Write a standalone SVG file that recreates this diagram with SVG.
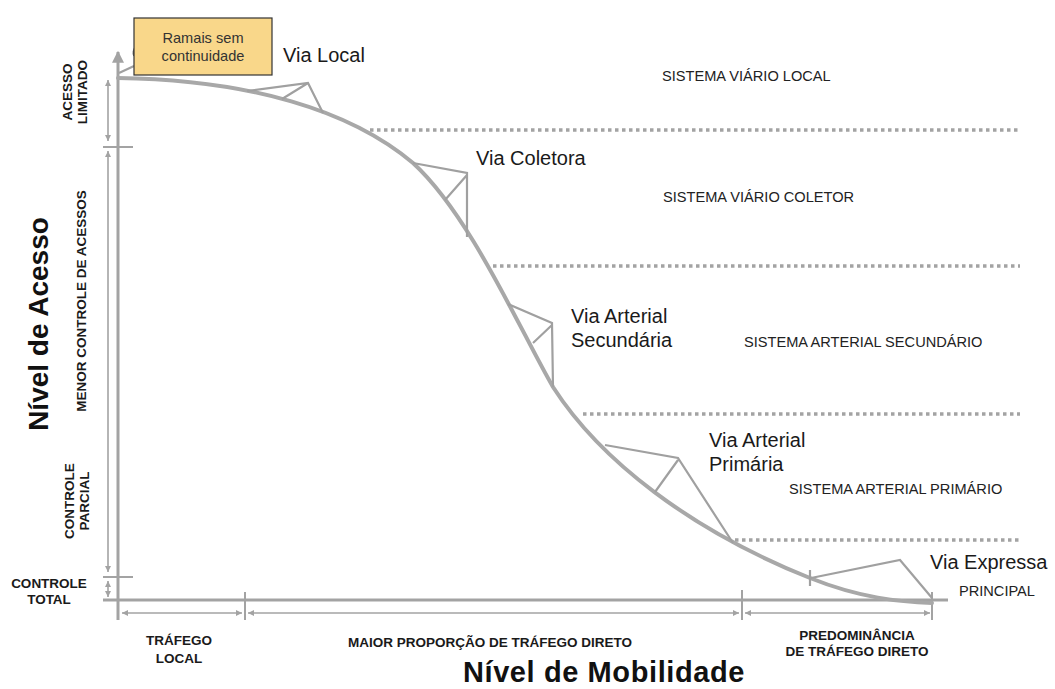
<svg xmlns="http://www.w3.org/2000/svg" width="1055" height="689" viewBox="0 0 1055 689">
<defs>
<style>
.ax{stroke:#a3a3a3;stroke-width:3;fill:none}
.dim{stroke:#a3a3a3;stroke-width:1.6;fill:none}
.tick{stroke:#a3a3a3;stroke-width:2;fill:none}
.curve{stroke:#a8a8a8;stroke-width:4;fill:none;stroke-linecap:round}
.tri{stroke:#a0a0a0;stroke-width:2.2;fill:none;stroke-linejoin:miter}
.dot{stroke:#a3a3a3;stroke-width:3.5;fill:none;stroke-dasharray:3.5 3.5}
.via{font-family:"Liberation Sans",Arial,sans-serif;font-size:20px;fill:#1a1a1a}
.sis{font-family:"Liberation Sans",Arial,sans-serif;font-size:14.6px;fill:#222}
.lbl{font-family:"Liberation Sans",Arial,sans-serif;font-size:13.5px;font-weight:bold;fill:#1a1a1a}
.big{font-family:"Liberation Sans",Arial,sans-serif;font-size:28px;font-weight:bold;fill:#111}
.box{font-family:"Liberation Sans",Arial,sans-serif;font-size:14.6px;fill:#333}
</style>
<marker id="ah" viewBox="0 0 10 10" refX="10" refY="5" markerWidth="6" markerHeight="6" markerUnits="userSpaceOnUse" orient="auto-start-reverse">
<path d="M0,0 L10,5 L0,10 z" fill="#a3a3a3"/>
</marker>
<marker id="axh" viewBox="0 0 10 10" refX="9" refY="5" markerWidth="12" markerHeight="12" markerUnits="userSpaceOnUse" orient="auto">
<path d="M0,0 L10,5 L0,10 z" fill="#a3a3a3"/>
</marker>
</defs>
<rect width="1055" height="689" fill="#ffffff"/>

<g id="connectors">
<line class="ax" x1="118" y1="620" x2="118" y2="52" marker-end="url(#axh)"/>
<line class="ax" x1="103" y1="600" x2="948" y2="600"/>
<line class="dim" x1="108" y1="80" x2="108" y2="141" marker-start="url(#ah)" marker-end="url(#ah)"/>
<line class="tick" x1="103" y1="147" x2="133" y2="147"/>
<line class="dim" x1="108" y1="151" x2="108" y2="572" marker-start="url(#ah)" marker-end="url(#ah)"/>
<line class="tick" x1="103" y1="577" x2="133" y2="577"/>
<line class="dim" x1="108" y1="581" x2="108" y2="597" marker-start="url(#ah)" marker-end="url(#ah)"/>
<line class="dim" x1="122" y1="613" x2="242" y2="613" marker-start="url(#ah)" marker-end="url(#ah)"/>
<line class="dim" x1="248" y1="613" x2="739" y2="613" marker-start="url(#ah)" marker-end="url(#ah)"/>
<line class="dim" x1="745" y1="613" x2="930" y2="613" marker-start="url(#ah)" marker-end="url(#ah)"/>
<line class="tick" x1="245" y1="592" x2="245" y2="620"/>
<line class="tick" x1="742" y1="590" x2="742" y2="620"/>
<line class="tick" x1="932" y1="592" x2="932" y2="620"/>
<line class="dot" x1="370" y1="130" x2="1020" y2="130"/>
<line class="dot" x1="493" y1="266" x2="1020" y2="266"/>
<line class="dot" x1="583" y1="414" x2="1020" y2="414"/>
<line class="dot" x1="735" y1="540" x2="1020" y2="540"/>
<path class="curve" d="M118,78 C250,80 350,110 413,163 C470,215 520,330 553,387 C600,460 690,530 810,578 C860,598 900,602 932,603"/>
<line class="tri" x1="119" y1="73" x2="134" y2="66"/>
<path d="M136,46 Q132,51 134,56" stroke="#666" stroke-width="1.5" fill="none"/>
</g>

<g id="via-local">
<path class="tri" d="M247,91 L308,83 L323,113 M282,99 L308,83"/>
<text class="via" x="283" y="62">Via Local</text>
</g>
<g id="via-coletora">
<path class="tri" d="M413,163 L467,173 L467,237 M445,200 L467,175"/>
<text class="via" x="476" y="165">Via Coletora</text>
</g>
<g id="via-arterial-secundaria">
<path class="tri" d="M508,304 L552,323 L553,387 M533,343 L552,325"/>
<text class="via" x="571" y="323">Via Arterial</text>
<text class="via" x="571" y="347">Secundária</text>
</g>
<g id="via-arterial-primaria">
<path class="tri" d="M605,445 L678,458 L733,543 M655,492 L678,460"/>
<text class="via" x="709" y="447">Via Arterial</text>
<text class="via" x="709" y="471">Primária</text>
</g>
<g id="via-expressa">
<path class="tri" d="M810,570 L810,586 M811,578 L900,560 L932,598"/>
<text class="via" x="930" y="569">Via Expressa</text>
</g>

<g id="ramais">
<rect x="134" y="18" width="138" height="57" fill="#f9d78a" stroke="#333" stroke-width="1.2"/>
<text class="box" x="203" y="43" text-anchor="middle">Ramais sem</text>
<text class="box" x="203" y="61" text-anchor="middle">continuidade</text>
</g>

<g id="sistemas">
<text class="sis" x="662" y="81">SISTEMA VIÁRIO LOCAL</text>
<text class="sis" x="663" y="202">SISTEMA VIÁRIO COLETOR</text>
<text class="sis" x="744" y="347">SISTEMA ARTERIAL SECUNDÁRIO</text>
<text class="sis" x="789" y="494">SISTEMA ARTERIAL PRIMÁRIO</text>
<text class="sis" x="959" y="596">PRINCIPAL</text>
</g>

<g id="left-labels">
<text class="lbl" transform="translate(72,92) rotate(-90)" text-anchor="middle">ACESSO</text>
<text class="lbl" transform="translate(87,92) rotate(-90)" text-anchor="middle">LIMITADO</text>
<text class="lbl" transform="translate(86,301) rotate(-90)" text-anchor="middle">MENOR CONTROLE DE ACESSOS</text>
<text class="lbl" transform="translate(74,501) rotate(-90)" text-anchor="middle">CONTROLE</text>
<text class="lbl" transform="translate(89,501) rotate(-90)" text-anchor="middle">PARCIAL</text>
<text class="lbl" x="49" y="588" text-anchor="middle">CONTROLE</text>
<text class="lbl" x="49" y="604" text-anchor="middle">TOTAL</text>
<text class="big" transform="translate(48,324) rotate(-90)" text-anchor="middle">Nível de Acesso</text>
</g>

<g id="bottom-labels">
<text class="lbl" x="179" y="645" text-anchor="middle">TRÁFEGO</text>
<text class="lbl" x="179" y="663" text-anchor="middle">LOCAL</text>
<text class="lbl" x="490" y="647" text-anchor="middle">MAIOR PROPORÇÃO DE TRÁFEGO DIRETO</text>
<text class="lbl" x="857" y="640" text-anchor="middle">PREDOMINÂNCIA</text>
<text class="lbl" x="857" y="656" text-anchor="middle">DE TRÁFEGO DIRETO</text>
<text class="big" x="604" y="682" text-anchor="middle" style="font-size:29px;letter-spacing:0.6px">Nível de Mobilidade</text>
</g>
</svg>
